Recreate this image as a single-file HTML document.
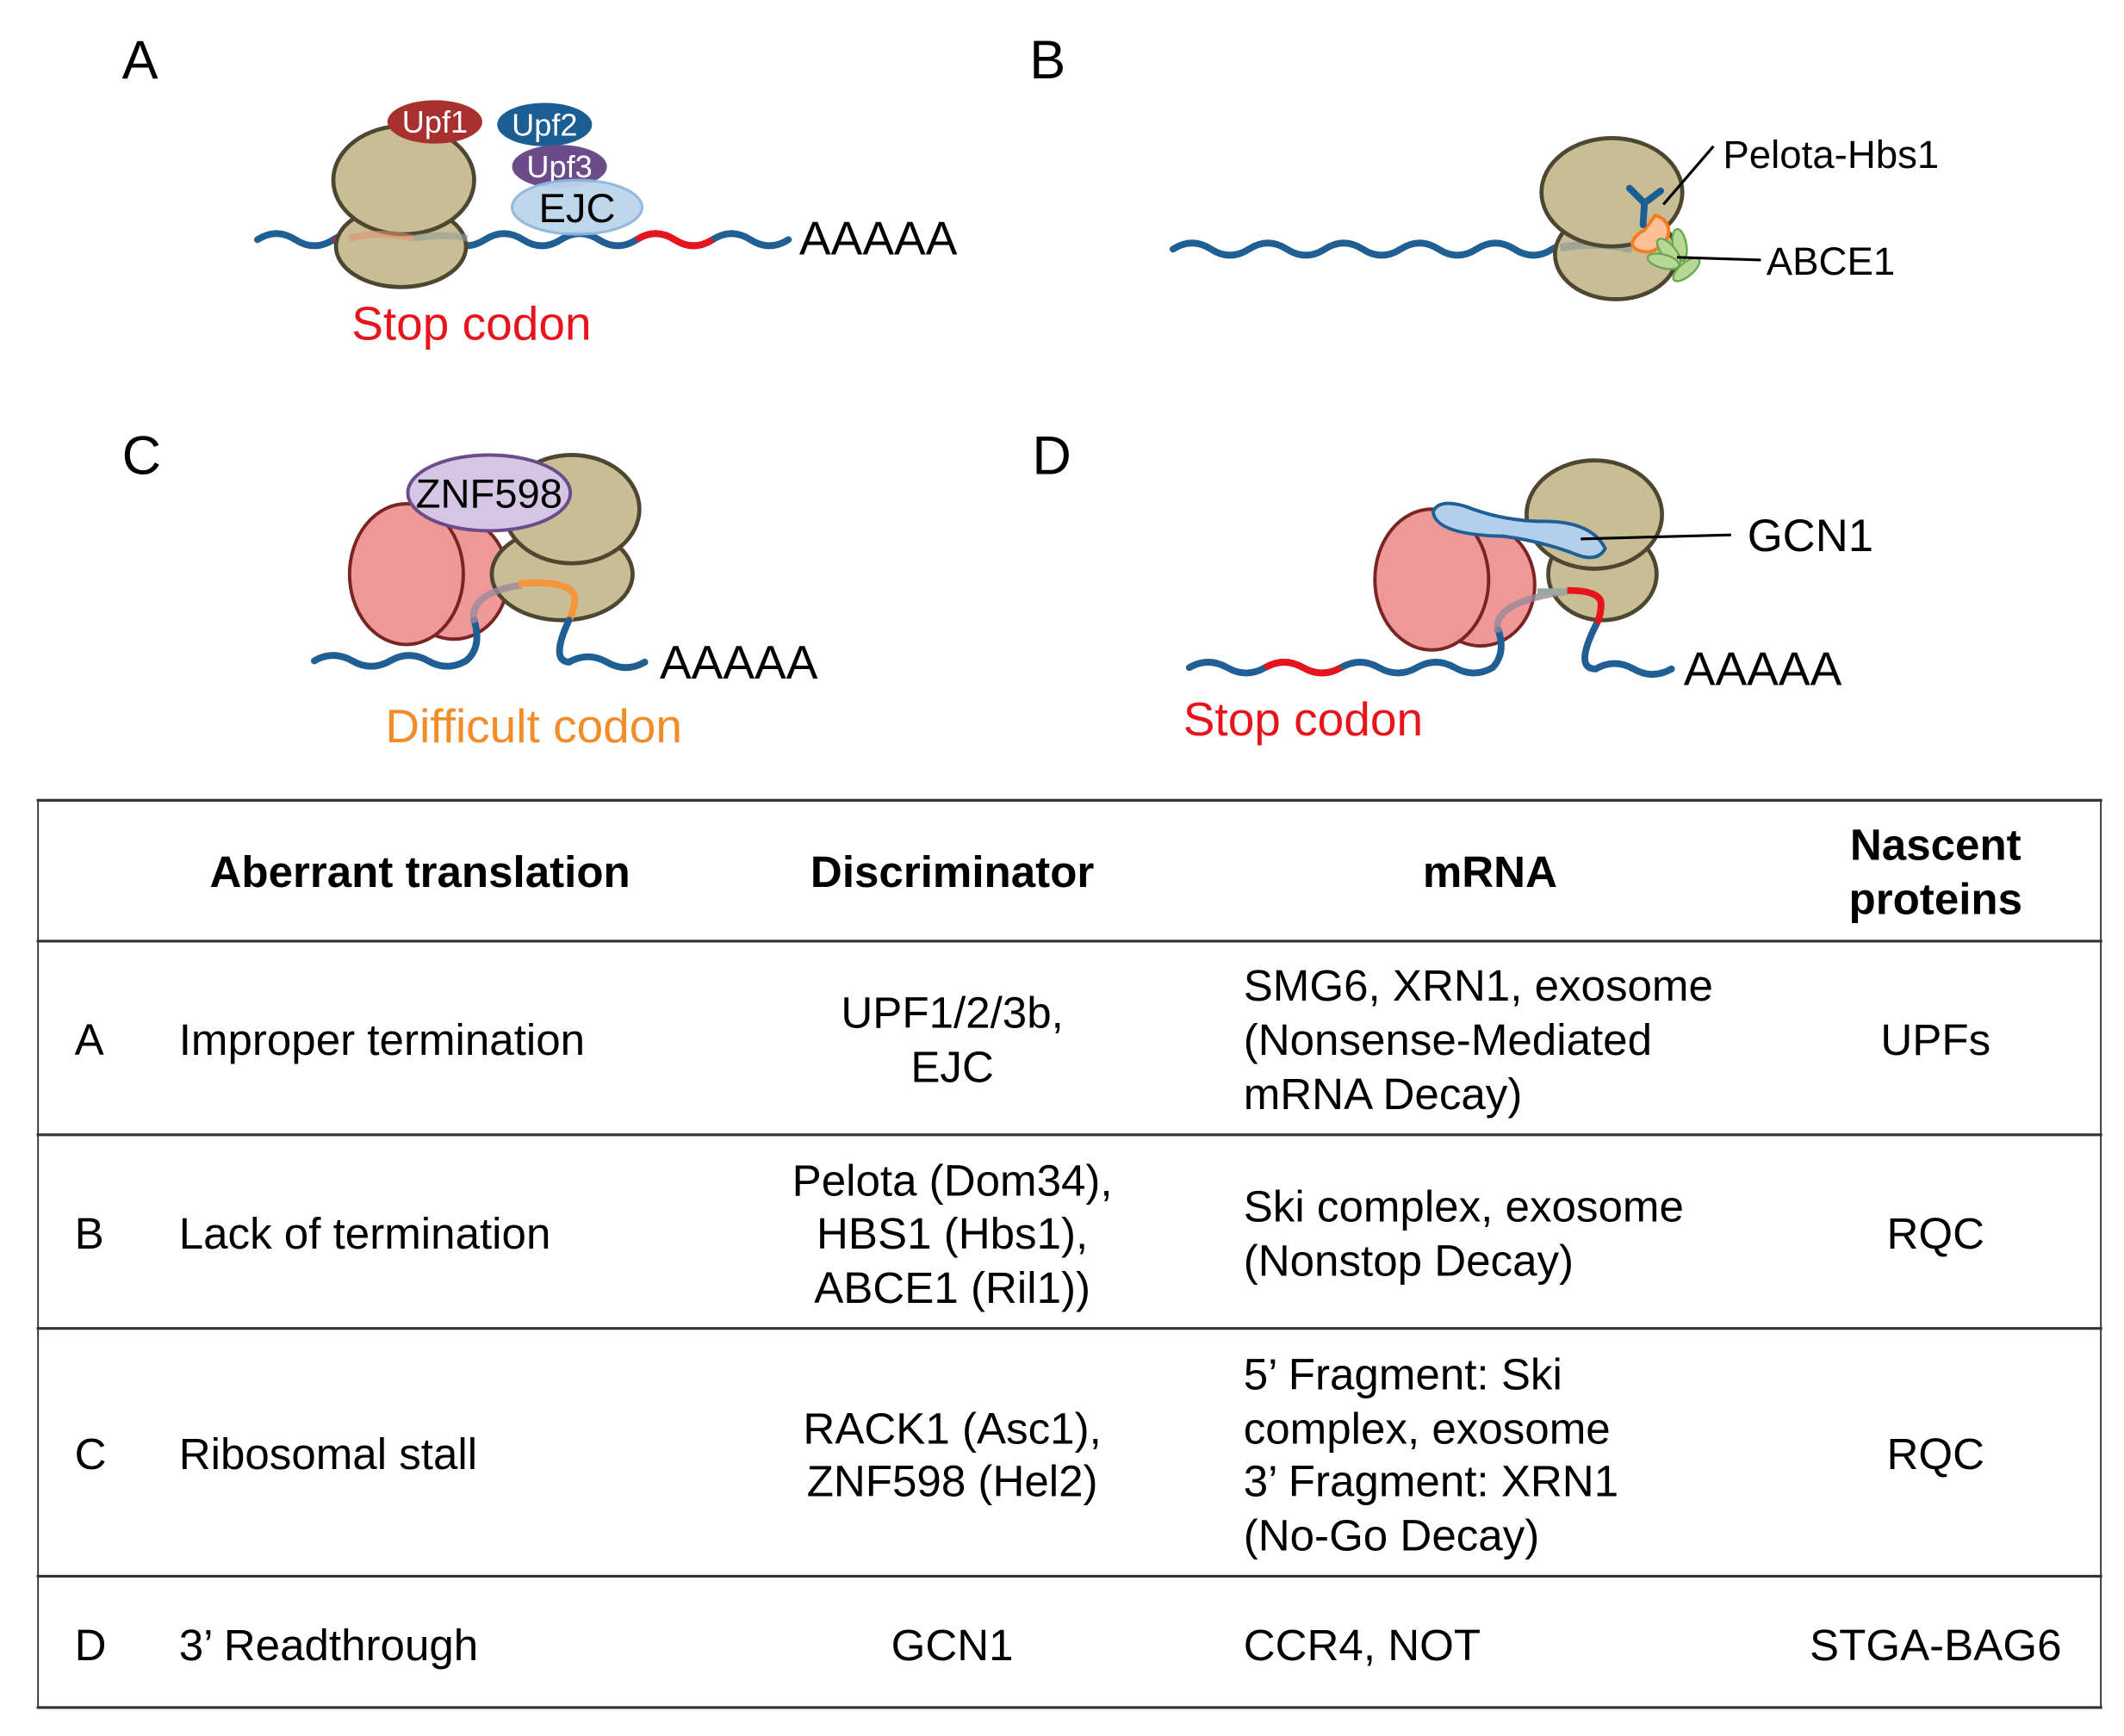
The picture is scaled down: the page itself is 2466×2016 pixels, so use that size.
<!DOCTYPE html>
<html><head><meta charset="utf-8"><style>
html,body{margin:0;padding:0;background:#fff;}
svg{display:block;}
text{font-family:"Liberation Sans",Arial,sans-serif;}
</style></head><body>
<svg width="2466" height="2016" viewBox="0 0 1568 1282" xmlns="http://www.w3.org/2000/svg">
<g font-size="40" fill="#000">
<text x="90" y="58">A</text><text x="760" y="58">B</text>
<text x="90" y="350">C</text><text x="762" y="350">D</text>
</g>

<!-- Panel A -->
<path d="M190 177 q14 -9 28 0 q14 9 28 0 q14 -9 28 0 q14 9 28 0 q14 -9 28 0 q14 9 28 0 q14 -9 28 0 q14 9 28 0 q14 -9 28 0 q14 9 28 0 q14 -9 28 0 q14 9 28 0 q14 -9 28 0 q14 9 28 0" fill="none" stroke="#1f5f94" stroke-width="5" stroke-linecap="round"/>
<path d="M470 177 q14 -9 28 0 q14 9 28 0" fill="none" stroke="#e8141b" stroke-width="5"/>
<path d="M246 178 L258 177" stroke="#e8141b" stroke-width="5"/>
<ellipse cx="296" cy="182" rx="48" ry="30" fill="#c9bd96" stroke="#4d4630" stroke-width="3"/>
<ellipse cx="298" cy="133" rx="52" ry="40" fill="#c9bd96" stroke="#4d4630" stroke-width="3"/>
<path d="M258 176 Q280 170 305 176" stroke="#e09070" stroke-width="5" opacity="0.6" fill="none"/>
<path d="M305 176 Q330 172 345 176" stroke="#8f9e9a" stroke-width="5" opacity="0.6" fill="none"/>
<ellipse cx="321" cy="90" rx="35" ry="16" fill="#a8302f"/>
<text x="321" y="98" font-size="23" fill="#fff" text-anchor="middle">Upf1</text>
<ellipse cx="402" cy="92" rx="35" ry="16" fill="#1a5e93"/>
<text x="402" y="100" font-size="23" fill="#fff" text-anchor="middle">Upf2</text>
<ellipse cx="413" cy="123" rx="35" ry="16" fill="#6b4b8a"/>
<text x="413" y="131" font-size="23" fill="#fff" text-anchor="middle">Upf3</text>
<ellipse cx="426" cy="153" rx="48" ry="20" fill="#bcd5ec" stroke="#8fb6dc" stroke-width="2" opacity="0.95"/>
<text x="426" y="164" font-size="30" text-anchor="middle">EJC</text>
<text x="590" y="188" font-size="35">AAAAA</text>
<text x="348" y="251" font-size="35" fill="#e8141b" text-anchor="middle">Stop codon</text>

<!-- Panel B -->
<path d="M866 184 q14 -9 28 0 q14 9 28 0 q14 -9 28 0 q14 9 28 0 q14 -9 28 0 q14 9 28 0 q14 -9 28 0 q14 9 28 0 q14 -9 28 0 q14 9 28 0 q14 -9 28 0" fill="none" stroke="#1f5f94" stroke-width="5" stroke-linecap="round"/>
<ellipse cx="1193" cy="188" rx="45" ry="33" fill="#c9bd96" stroke="#4d4630" stroke-width="3"/>
<path d="M1152 183 Q1180 178 1205 184" stroke="#8f9e9a" stroke-width="6" fill="none" opacity="0.7"/>
<ellipse cx="1190" cy="142" rx="52" ry="40" fill="#c9bd96" stroke="#4d4630" stroke-width="3"/>
<path d="M1222 159 Q1232 162 1232 172 Q1230 182 1218 186 Q1206 186 1205 180 Q1206 174 1214 170 Z" fill="#fbc095" stroke="#f47b20" stroke-width="2.5"/>
<path d="M1203 139 L1214 150 L1226 141 M1214 150 L1213 166" stroke="#1a5e93" stroke-width="5" fill="none" stroke-linecap="round"/>
<g fill="#b6d795" stroke="#6aa84f" stroke-width="1.5">
<ellipse cx="1240" cy="181" rx="5" ry="12" transform="rotate(-10 1240 181)"/>
<ellipse cx="1232" cy="186" rx="5" ry="12" transform="rotate(-40 1232 186)"/>
<ellipse cx="1228" cy="193" rx="5" ry="12" transform="rotate(-75 1228 193)"/>
<ellipse cx="1245" cy="199" rx="5" ry="12" transform="rotate(50 1245 199)"/>
</g>
<path d="M1228 151 L1265 108" stroke="#000" stroke-width="2"/>
<path d="M1238 190 L1300 192" stroke="#000" stroke-width="2"/>
<text x="1272" y="124" font-size="29">Pelota-Hbs1</text>
<text x="1304" y="203" font-size="29">ABCE1</text>

<!-- Panel C -->
<ellipse cx="335" cy="427" rx="40" ry="45" fill="#ee9898" stroke="#7a2525" stroke-width="2.5"/>
<ellipse cx="300" cy="424" rx="42" ry="52" fill="#ee9898" stroke="#7a2525" stroke-width="2.5"/>
<ellipse cx="415" cy="424" rx="52" ry="34" fill="#c9bd96" stroke="#4d4630" stroke-width="3"/>
<ellipse cx="422" cy="376" rx="50" ry="40" fill="#c9bd96" stroke="#4d4630" stroke-width="3"/>
<path d="M232 488 q14 -8 28 0 q14 8 28 0 q14 -8 28 0 q14 8 28 0 Q356 478 350 458" fill="none" stroke="#1f5f94" stroke-width="5" stroke-linecap="round"/>
<path d="M350 460 Q345 438 385 432" fill="none" stroke="#9a8a9a" stroke-width="5" opacity="0.8"/>
<path d="M383 431 Q420 428 424 440 Q425 448 420 458" fill="none" stroke="#f7953a" stroke-width="5"/>
<path d="M420 458 Q406 488 420 489 q14 -8 28 0 q14 8 28 0" fill="none" stroke="#1f5f94" stroke-width="5" stroke-linecap="round"/>
<ellipse cx="361" cy="364" rx="60" ry="28" fill="#d4c6e4" stroke="#6b4b8a" stroke-width="2.5"/>
<text x="361" y="375" font-size="30" text-anchor="middle">ZNF598</text>
<text x="487" y="501" font-size="35">AAAAA</text>
<text x="394" y="548" font-size="35" fill="#f28c28" text-anchor="middle">Difficult codon</text>

<!-- Panel D -->
<ellipse cx="1093" cy="432" rx="40" ry="45" fill="#ee9898" stroke="#7a2525" stroke-width="2.5"/>
<ellipse cx="1057" cy="428" rx="42" ry="52" fill="#ee9898" stroke="#7a2525" stroke-width="2.5"/>
<ellipse cx="1183" cy="424" rx="40" ry="34" fill="#c9bd96" stroke="#4d4630" stroke-width="3"/>
<ellipse cx="1177" cy="380" rx="50" ry="40" fill="#c9bd96" stroke="#4d4630" stroke-width="3"/>
<path d="M878 493 q14 -8 28 0 q14 8 28 0 q14 -8 28 0 q14 8 28 0 q14 -8 28 0 q14 8 28 0 q14 -8 28 0 q14 8 28 0 Q1112 482 1106 465" fill="none" stroke="#1f5f94" stroke-width="5" stroke-linecap="round"/>
<path d="M934 493 q14 -8 28 0 q14 8 28 0" fill="none" stroke="#e8141b" stroke-width="5"/>
<path d="M1106 467 Q1100 445 1155 437" fill="none" stroke="#9a8a9a" stroke-width="5" opacity="0.8"/>
<path d="M1135 437 L1158 437" stroke="#9aa8a0" stroke-width="5"/>
<path d="M1157 436 Q1182 436 1182 446 Q1182 455 1178 462" fill="none" stroke="#e8141b" stroke-width="5"/>
<path d="M1178 462 Q1162 494 1178 494 q14 -8 28 0 q14 8 28 0" fill="none" stroke="#1f5f94" stroke-width="5" stroke-linecap="round"/>
<path d="M1058 378 Q1062 368 1082 374 Q1110 385 1140 385 Q1175 385 1185 405 Q1180 415 1165 410 Q1140 400 1110 396 Q1060 395 1058 378 Z" fill="#b4cfeb" stroke="#1f5f94" stroke-width="2.5"/>
<path d="M1167 398 L1278 395" stroke="#000" stroke-width="2"/>
<text x="1290" y="407" font-size="33.5">GCN1</text>
<text x="1243" y="506" font-size="35">AAAAA</text>
<text x="962" y="543" font-size="35" fill="#e8141b" text-anchor="middle">Stop codon</text>

<!-- Table -->
<g stroke="#333" stroke-width="2" fill="none">
<line x1="27" y1="591" x2="1552" y2="591"/>
<line x1="27" y1="695" x2="1552" y2="695"/>
<line x1="27" y1="838" x2="1552" y2="838"/>
<line x1="27" y1="981" x2="1552" y2="981"/>
<line x1="27" y1="1164" x2="1552" y2="1164"/>
<line x1="27" y1="1261" x2="1552" y2="1261"/>
<line x1="28" y1="591" x2="28" y2="1261" stroke-width="1.2"/>
<line x1="1551" y1="591" x2="1551" y2="1261" stroke-width="1.2"/>
</g>
<g font-size="32.5" font-weight="bold" text-anchor="middle">
<text x="310" y="655">Aberrant translation</text>
<text x="703" y="655">Discriminator</text>
<text x="1100" y="655">mRNA</text>
<text x="1429" y="635">Nascent</text>
<text x="1429" y="675">proteins</text>
</g>
<g font-size="32.5">
<text x="55" y="779">A</text><text x="132" y="779">Improper termination</text>
<text x="55" y="922">B</text><text x="132" y="922">Lack of termination</text>
<text x="55" y="1085">C</text><text x="132" y="1085">Ribosomal stall</text>
<text x="55" y="1226">D</text><text x="132" y="1226">3’ Readthrough</text>
<text x="918" y="739">SMG6, XRN1, exosome</text>
<text x="918" y="779">(Nonsense-Mediated</text>
<text x="918" y="819">mRNA Decay)</text>
<text x="918" y="902">Ski complex, exosome</text>
<text x="918" y="942">(Nonstop Decay)</text>
<text x="918" y="1026">5’ Fragment: Ski</text>
<text x="918" y="1066">complex, exosome</text>
<text x="918" y="1105">3’ Fragment: XRN1</text>
<text x="918" y="1145">(No-Go Decay)</text>
<text x="918" y="1226">CCR4, NOT</text>
</g>
<g font-size="32.5" text-anchor="middle">
<text x="703" y="759">UPF1/2/3b,</text>
<text x="703" y="799">EJC</text>
<text x="703" y="883">Pelota (Dom34),</text>
<text x="703" y="922">HBS1 (Hbs1),</text>
<text x="703" y="962">ABCE1 (Ril1))</text>
<text x="703" y="1066">RACK1 (Asc1),</text>
<text x="703" y="1105">ZNF598 (Hel2)</text>
<text x="703" y="1226">GCN1</text>
<text x="1429" y="779">UPFs</text>
<text x="1429" y="922">RQC</text>
<text x="1429" y="1085">RQC</text>
<text x="1429" y="1226">STGA-BAG6</text>
</g>
</svg>
</body></html>
